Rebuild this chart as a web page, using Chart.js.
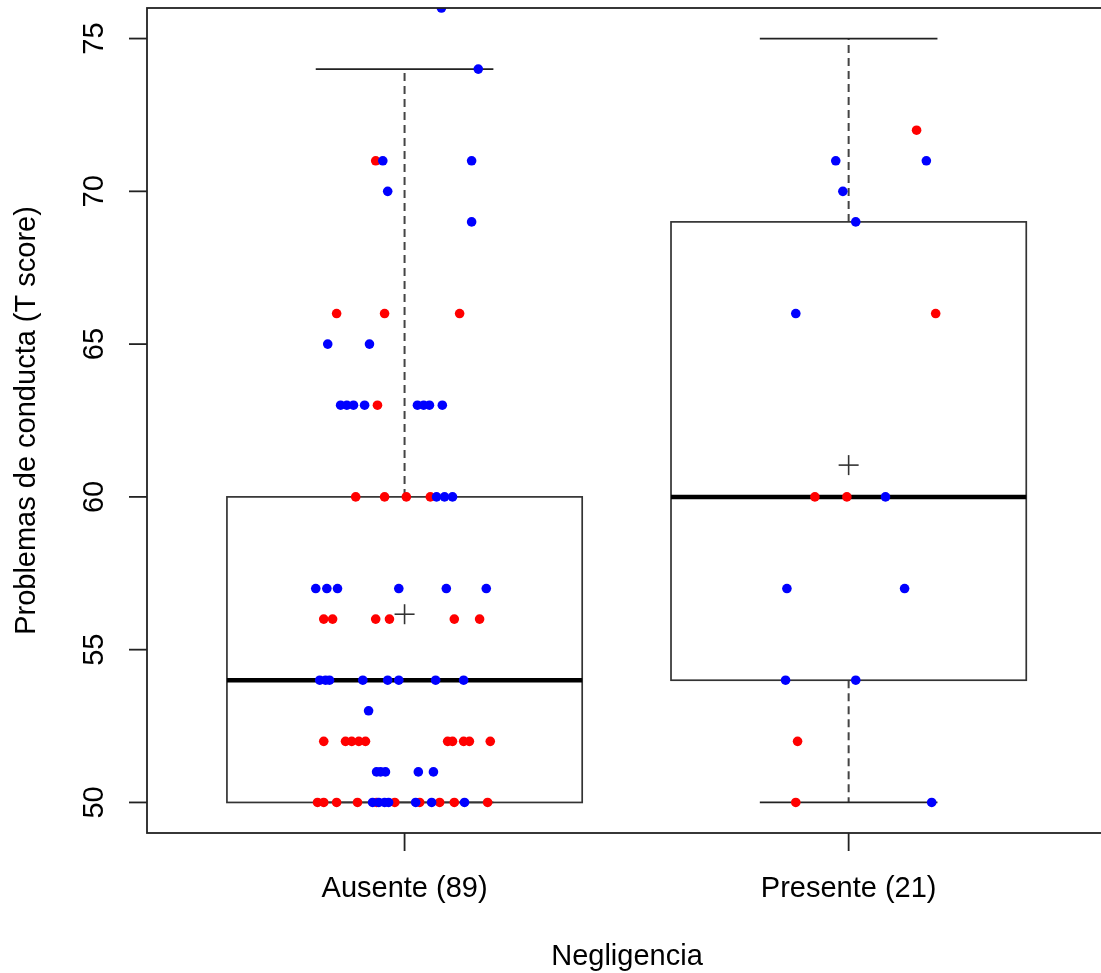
<!DOCTYPE html>
<html>
<head>
<meta charset="utf-8">
<title>Problemas de conducta según negligencia</title>
<script src="https://cdn.jsdelivr.net/npm/chart.js@4.4.1/dist/chart.umd.min.js"></script>
<style>
  html, body { margin: 0; padding: 0; background: #fff; overflow: hidden; }
  #wrap { width: 1101px; height: 973px; overflow: hidden; }
</style>
</head>
<body>
<div id="wrap"><canvas id="myChart" width="1111" height="973"></canvas></div>
<script>
const categories = ['Ausente (89)', 'Presente (21)'];
const yTicks = [50, 55, 60, 65, 70, 75];
const xTitle = 'Negligencia';
const yTitle = 'Problemas de conducta (T score)';

// box stats, one entry per group
const whiskerLow = [50, 50];
const lowerHinge = [50, 54];
const medians = [54, 60];
const upperHinge = [60, 69];
const whiskerHigh = [74, 75];
const means = [56.16, 61.04];

// jittered points: x = group position + jitter
const ausenteBlueY = [76, 74, 71, 71, 70, 69, 65, 65, 63, 63, 63, 63, 63, 63, 63, 63, 60, 60, 60,
  57, 57, 57, 57, 57, 57, 54, 54, 54, 54, 54, 54, 54, 54, 53, 51, 51, 51, 51, 51,
  50, 50, 50, 50, 50, 50, 50];
const ausenteBlueX = [1.083, 1.166, 0.951, 1.151, 0.962, 1.151, 0.827, 0.921, 0.856, 0.870, 0.885, 0.910, 1.029, 1.043, 1.056, 1.085, 1.072, 1.090, 1.108,
  0.800, 0.825, 0.849, 0.987, 1.094, 1.184, 0.809, 0.822, 0.831, 0.906, 0.962, 0.987, 1.070, 1.133, 0.919, 0.937, 0.946, 0.957, 1.031, 1.065,
  0.928, 0.942, 0.955, 0.964, 1.025, 1.061, 1.135];
const ausenteRedY = [71, 66, 66, 66, 63, 60, 60, 60, 60, 56, 56, 56, 56, 56, 56,
  52, 52, 52, 52, 52, 52, 52, 52, 52, 52, 50, 50, 50, 50, 50, 50, 50, 50, 50, 50];
const ausenteRedX = [0.935, 0.847, 0.955, 1.124, 0.939, 0.890, 0.955, 1.004, 1.058, 0.818, 0.838, 0.935, 0.966, 1.112, 1.169,
  0.818, 0.867, 0.881, 0.897, 0.912, 1.097, 1.108, 1.133, 1.146, 1.193, 0.804, 0.818, 0.847, 0.894, 0.937, 0.978, 1.034, 1.079, 1.112, 1.187];
const presenteBlueY = [71, 71, 70, 69, 66, 60, 57, 57, 54, 54, 50];
const presenteBlueX = [1.971, 2.175, 1.987, 2.016, 1.881, 2.083, 1.861, 2.126, 1.858, 2.016, 2.187];
const presenteRedY = [72, 66, 60, 60, 52, 50];
const presenteRedX = [2.153, 2.196, 1.924, 1.996, 1.885, 1.881];

const font = '"Liberation Sans", Arial, Helvetica, sans-serif';
const zip = (xs, ys) => xs.map((x, i) => ({ x: x, y: ys[i] }));

function line(ctx, x1, y1, x2, y2) {
    ctx.beginPath();
    ctx.moveTo(x1, y1);
    ctx.lineTo(x2, y2);
    ctx.stroke();
}

// boxes, whiskers, medians and means (drawn under the points)
const boxplotPlugin = {
    id: 'boxplot',
    beforeDatasetsDraw(chart) {
        const ctx = chart.ctx;
        const xs = chart.scales.x;
        const ys = chart.scales.y;
        ctx.save();
        categories.forEach((cat, i) => {
            const pos = i + 1;
            const cx = xs.getPixelForValue(pos);
            const left = xs.getPixelForValue(pos - 0.4);
            const right = xs.getPixelForValue(pos + 0.4);
            const capL = xs.getPixelForValue(pos - 0.2);
            const capR = xs.getPixelForValue(pos + 0.2);
            const yLo = ys.getPixelForValue(whiskerLow[i]);
            const yQ1 = ys.getPixelForValue(lowerHinge[i]);
            const yMed = ys.getPixelForValue(medians[i]);
            const yQ3 = ys.getPixelForValue(upperHinge[i]);
            const yHi = ys.getPixelForValue(whiskerHigh[i]);

            // whiskers
            ctx.strokeStyle = '#444';
            ctx.lineWidth = 2;
            ctx.setLineDash([8, 5]);
            line(ctx, cx, yQ3, cx, yHi);
            if (whiskerLow[i] < lowerHinge[i]) line(ctx, cx, yQ1, cx, yLo);
            ctx.setLineDash([]);

            // staples
            ctx.strokeStyle = '#222';
            ctx.lineWidth = 1.7;
            line(ctx, capL, yHi, capR, yHi);
            line(ctx, capL, yLo, capR, yLo);

            // box
            ctx.strokeStyle = '#333';
            ctx.strokeRect(left, yQ3, right - left, yQ1 - yQ3);

            // median
            ctx.strokeStyle = '#000';
            ctx.lineWidth = 4.5;
            line(ctx, left, yMed, right, yMed);

            // mean (+)
            const mx = cx;
            const my = ys.getPixelForValue(means[i]);
            ctx.strokeStyle = '#333';
            ctx.lineWidth = 1.6;
            line(ctx, mx - 10, my, mx + 10, my);
            line(ctx, mx, my - 10, mx, my + 10);
        });
        ctx.restore();
    },
    afterDraw(chart) {
        const ctx = chart.ctx;
        const xs = chart.scales.x;
        const ys = chart.scales.y;
        const area = chart.chartArea;
        ctx.save();

        // frame
        ctx.strokeStyle = '#222';
        ctx.lineWidth = 1.8;
        ctx.strokeRect(area.left, area.top, area.right - area.left, area.bottom - area.top);

        ctx.fillStyle = '#000';
        ctx.font = '29px ' + font;

        // y axis ticks and labels
        yTicks.forEach(t => {
            const py = ys.getPixelForValue(t);
            line(ctx, area.left - 18, py, area.left, py);
            ctx.save();
            ctx.translate(103, py);
            ctx.rotate(-Math.PI / 2);
            ctx.textAlign = 'center';
            ctx.textBaseline = 'alphabetic';
            ctx.fillText(String(t), 0, 0);
            ctx.restore();
        });

        // x axis ticks and labels
        ctx.textAlign = 'center';
        ctx.textBaseline = 'alphabetic';
        categories.forEach((cat, i) => {
            const px = xs.getPixelForValue(i + 1);
            line(ctx, px, area.bottom, px, area.bottom + 18);
            ctx.fillText(cat, px, 897);
        });

        // axis titles
        ctx.fillText(xTitle, 627, 965);
        ctx.save();
        ctx.translate(35, (area.top + area.bottom) / 2);
        ctx.rotate(-Math.PI / 2);
        ctx.fillText(yTitle, 0, 0);
        ctx.restore();

        ctx.restore();
    }
};

const pointStyle = (color) => ({
    backgroundColor: color,
    borderColor: color,
    borderWidth: 0,
    pointRadius: 4.8,
    pointHoverRadius: 4.8,
    clip: 0
});

const ctx = document.getElementById('myChart').getContext('2d');
const myChart = new Chart(ctx, {
    type: 'scatter',
    data: {
        datasets: [
            Object.assign({ label: 'Ausente azul', data: zip(ausenteBlueX, ausenteBlueY) }, pointStyle('#0000ff')),
            Object.assign({ label: 'Presente azul', data: zip(presenteBlueX, presenteBlueY) }, pointStyle('#0000ff')),
            Object.assign({ label: 'Ausente rojo', data: zip(ausenteRedX, ausenteRedY) }, pointStyle('#ff0000')),
            Object.assign({ label: 'Presente rojo', data: zip(presenteRedX, presenteRedY) }, pointStyle('#ff0000'))
        ]
    },
    options: {
        responsive: false,
        animation: false,
        events: [],
        layout: { padding: { left: 147, top: 8, right: 2, bottom: 140 } },
        plugins: {
            legend: { display: false },
            tooltip: { enabled: false }
        },
        scales: {
            x: { type: 'linear', min: 0.42, max: 2.58, display: false },
            y: { type: 'linear', min: 49, max: 76, display: false }
        }
    },
    plugins: [boxplotPlugin]
});
</script>
</body>
</html>
